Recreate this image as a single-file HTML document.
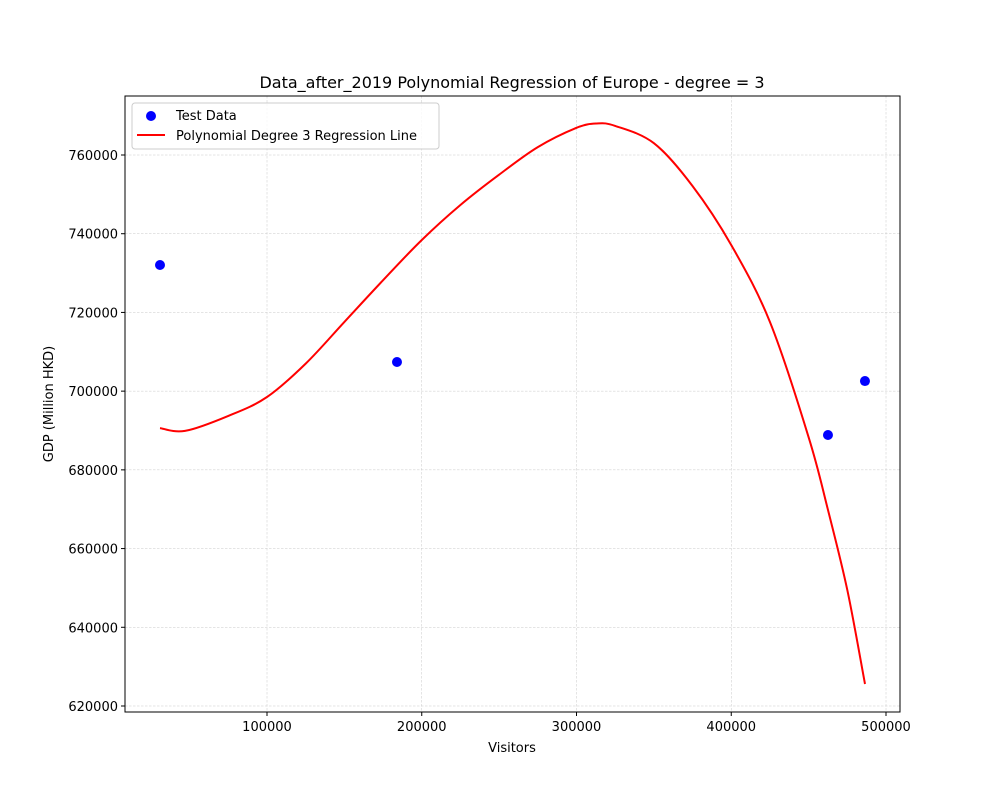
<!DOCTYPE html>
<html><head><meta charset="utf-8"><style>
body{margin:0;background:#fff;font-family:"Liberation Sans","DejaVu Sans",sans-serif}
</style></head><body>
<svg id="chart" width="1000" height="800" xmlns="http://www.w3.org/2000/svg" font-family="DejaVu Sans, Liberation Sans, sans-serif">
<rect width="1000" height="800" fill="#fff"/>
<g id="grid"></g>
<g id="plot"></g>
<rect x="125" y="96" width="775" height="616" fill="none" stroke="#000" stroke-width="1"/>
<g id="ticks" font-size="13"></g>
<text x="512" y="88" text-anchor="middle" font-size="16">Data_after_2019 Polynomial Regression of Europe - degree = 3</text>
<text x="512" y="752" text-anchor="middle" font-size="13">Visitors</text>
<text transform="translate(53,404) rotate(-90)" text-anchor="middle" font-size="13">GDP (Million HKD)</text>
<g>
<rect x="132" y="103" width="307" height="46" rx="3" fill="#fff" fill-opacity="0.8" stroke="#ccc"/>
<circle cx="151" cy="116" r="5" fill="#0000ff"/>
<text x="176" y="120" font-size="13">Test Data</text>
<line x1="137" y1="135" x2="165" y2="135" stroke="#ff0000" stroke-width="2"/>
<text x="176" y="140" font-size="13">Polynomial Degree 3 Regression Line</text>
</g>
</svg>
<script>
const xTicks=[100000,200000,300000,400000,500000];
const yTicks=[620000,640000,660000,680000,700000,720000,740000,760000];
const testX=[30857,184000,462500,486400];
const testY=[732050,707400,688850,702570];
const curveX=[30857,47000,75000,100000,125000,150000,175000,200000,225000,250000,275000,300000,313000,325000,350000,375000,400000,425000,450000,462500,475000,486400];
const curveY=[690600,689900,693700,698500,707000,717600,728200,738400,747300,755000,762000,766900,768000,767400,763000,752100,737100,717600,688300,669800,649500,625600];
const NS="http://www.w3.org/2000/svg";
const sx=v=>112.25+v*0.0015475;
const sy=v=>155+(760000-v)/20000*78.714;
const grid=document.getElementById('grid'),ticks=document.getElementById('ticks'),plot=document.getElementById('plot');
function mk(tag,attrs,parent){const e=document.createElementNS(NS,tag);for(const k in attrs)e.setAttribute(k,attrs[k]);parent.appendChild(e);return e;}
xTicks.forEach(t=>{const x=sx(t);
 const g=mk('line',{x1:x,y1:96,x2:x,y2:712,stroke:'#c8c8c8','stroke-width':0.5,'stroke-dasharray':'2.5,1.5'},grid);
 
 
 const tk=mk('line',{x1:x,y1:712,x2:x,y2:716,stroke:'#000'},ticks);
 
 
 const tx=mk('text',{x:x,y:731,'text-anchor':'middle'},ticks);tx.textContent=t;
 
 
});
yTicks.forEach(t=>{const y=sy(t);
 const g=mk('line',{x1:125,y1:y,x2:900,y2:y,stroke:'#c8c8c8','stroke-width':0.5,'stroke-dasharray':'2.5,1.5'},grid);
 
 
 const tk=mk('line',{x1:121,y1:y,x2:125,y2:y,stroke:'#000'},ticks);
 
 
 const tx=mk('text',{x:118,y:y+5,'text-anchor':'end'},ticks);tx.textContent=t;
 
 
});
const P=curveX.map((v,i)=>[sx(v),sy(curveY[i])]);
let d='M'+P[0][0].toFixed(1)+','+P[0][1].toFixed(1);
for(let i=0;i<P.length-1;i++){
 const p0=P[Math.max(0,i-1)],p1=P[i],p2=P[i+1],p3=P[Math.min(P.length-1,i+2)];
 const c1=[p1[0]+(p2[0]-p0[0])/6,p1[1]+(p2[1]-p0[1])/6];
 const c2=[p2[0]-(p3[0]-p1[0])/6,p2[1]-(p3[1]-p1[1])/6];
 d+=' C'+c1.map(n=>n.toFixed(1)).join(',')+' '+c2.map(n=>n.toFixed(1)).join(',')+' '+p2.map(n=>n.toFixed(1)).join(',');
}
const pl=mk('path',{d:d,fill:'none',stroke:'#ff0000','stroke-width':2,'stroke-linejoin':'round'},plot);


testX.forEach((v,i)=>{const c=mk('circle',{cx:sx(v),cy:sy(testY[i]),r:5,fill:'#0000ff'},plot);
 
 
});
</script>
</body></html>
